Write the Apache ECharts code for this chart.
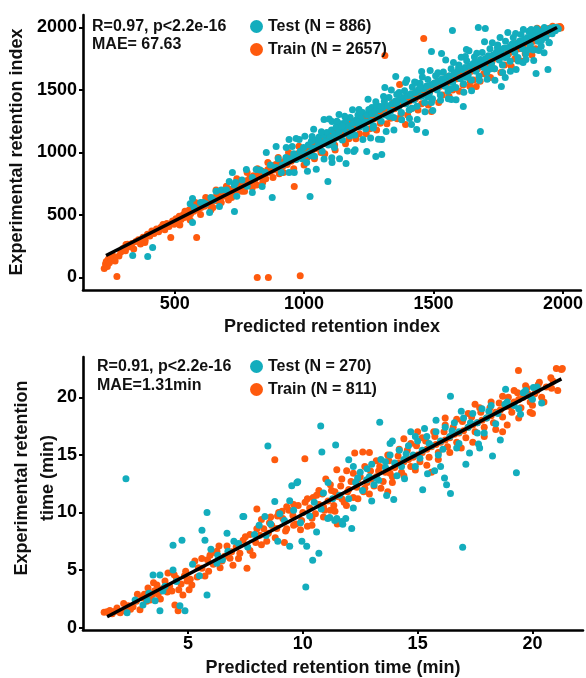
<!DOCTYPE html>
<html><head><meta charset="utf-8">
<script src="https://cdn.jsdelivr.net/npm/echarts@6/dist/echarts.min.js"></script>
<style>html,body{margin:0;padding:0;background:#fff}#c{width:586px;height:678px}</style>
</head><body><div id="c"></div>
<script>
// ---- Top panel: retention index ----
const riTrain = [
[228,72],[233,108],[236,128],[240,88],[244,148],[248,118],[252,162],[256,138],[260,178],[265,158],[270,132],[277,8],[285,172],[292,204],[300,232],[310,214],[312,264],[318,266],[326,246],[335,272],[342,228],[350,288],[360,302],[368,268],[378,322],[385,280],[386,298],[395,346],[404,332],[412,372],[420,352],[430,388],[438,366],[447,402],[455,424],[462,382],[470,432],[478,408],[485,320],[492,452],[498,426],
[505,470],[512,440],[518,490],[525,465],[532,500],[538,480],[545,520],[550,495],[556,540],[562,510],[568,555],[574,530],[580,565],[585,320],[590,545],[596,580],[602,560],[608,595],[615,570],[622,610],[628,585],[635,625],[642,600],[648,560],[655,640],[662,615],[668,660],[675,635],[682,675],[688,650],[695,690],[702,665],[708,620],[715,705],[722,680],[730,720],[737,695],[744,740],[750,715],[757,760],[764,730],[770,690],[777,775],[784,750],[790,795],[797,770],[804,815],[810,785],[819,0],[817,740],[824,830],[831,805],[838,850],[845,820],[852,790],[862,0],[860,865],[868,840],[875,885],[882,860],[890,905],[897,875],[904,830],[912,920],[920,895],[928,940],[935,905],[943,960],[950,930],[962,728],[958,975],[966,945],[975,990],[983,960],[985,14],[991,1005],[998,975],
[1005,1020],[1012,960],[1020,1045],[1028,1000],[1035,1070],[1043,1030],[1050,1085],[1058,1050],[1065,1000],[1072,1110],[1080,1075],[1088,1130],[1095,1090],[1103,1150],[1110,1110],[1118,1060],[1126,1170],[1134,1135],[1142,1195],[1150,1150],[1158,1215],[1165,1170],[1173,1110],[1181,1235],[1190,1195],[1198,1255],[1206,1210],[1214,1150],[1222,1270],[1230,1230],[1238,1290],[1246,1250],[1254,1190],[1262,1310],[1270,1270],[1278,1330],[1286,1290],[1294,1235],[1302,1350],[1312,1776],[1310,1310],[1318,1370],[1326,1330],[1334,1275],[1342,1395],[1350,1350],[1358,1410],[1366,1370],[1369,1544],[1374,1310],[1382,1430],[1392,1224],[1390,1390],[1398,1450],[1406,1410],[1414,1350],[1422,1470],[1430,1430],[1438,1490],[1446,1450],[1454,1390],[1462,1912],[1462,1510],[1470,1470],[1478,1530],[1486,1490],[1492,1328],[1494,1420],[1502,1550],[1510,1510],[1518,1570],[1526,1530],[1534,1460],[1542,1590],[1550,1550],[1558,1610],[1566,1570],[1574,1500],[1582,1630],[1590,1590],[1598,1650],[1606,1610],[1614,1540],[1622,1670],[1630,1630],[1638,1690],[1642,1568],[1646,1650],[1654,1580],[1662,1710],[1665,1528],[1670,1670],[1678,1730],[1686,1690],[1694,1630],[1702,1750],[1710,1710],[1718,1770],[1726,1730],[1734,1670],[1742,1790],[1750,1750],[1758,1810],[1766,1770],[1774,1700],[1782,1830],[1790,1790],[1798,1850],[1806,1810],[1814,1750],[1822,1870],[1830,1830],[1838,1890],[1846,1850],[1854,1790],[1862,1910],[1870,1870],[1878,1930],[1886,1890],[1894,1830],[1902,1950],[1910,1910],[1918,1965],[1920,1985],[1926,1930],[1934,1980],[1940,1990],[1942,1950],[1950,1995],[1958,1975],[1960,2010],[1966,2000],[1972,1990],[1975,1995],[1978,2005],[1985,1998],[1988,2008],[1990,2002],[1992,1996],
[520,420],[540,530],[560,460],[580,600],[600,505],[620,640],[640,540],[660,700],[680,600],[700,730],[720,640],[740,790],[760,690],[780,840],[800,720],[820,870],[840,760],[860,920],[880,800],[900,960],[920,840],[940,1000],[960,870],[980,1050],[1000,900],[1020,1040],[1040,950],[1060,1080],[1080,990],[1100,1120],[1120,1020],[1140,1160],[1160,1070],[1180,1210],[1200,1110],[1220,1250],[1240,1150],[1260,1300],[1280,1180],[1300,1330],[1320,1230],[1340,1380],[1360,1270],[1380,1420],[1400,1300],[1420,1460],[1440,1340],[1460,1500],[1480,1380],[1500,1540],[1520,1400],[1540,1580],[1560,1450],[1580,1620],[1600,1490],[1620,1660],[1640,1530],[1660,1700],[1680,1570],[1700,1740],[1720,1600],[1740,1780],[1760,1640],[1780,1830],[1800,1690],[1820,1870],[1840,1730],[1860,1900],[1880,1780],[1900,1995]
];
const riTest = [
[338,176],[396,168],[415,240],[569,632],[569,440],[635,520],[673,568],[711,768],[723,840],[731,528],[777,864],[800,680],[815,864],[838,728],[854,1000],[877,640],[892,1048],[912,840],[931,920],[942,1104],[954,1048],[969,1112],[942,840],[962,840],
[560,590],[575,560],[600,600],[610,600],[620,590],[640,640],[650,620],[660,690],[680,700],[700,700],[730,740],[735,760],[740,650],[760,780],[780,730],[800,800],[830,860],[850,840],[870,900],[890,880],[900,950],[915,900],[930,960],[945,950],[960,990],[975,960],
[1023,648],[1092,768],[1162,912],[1108,920],[1242,1008],[1277,968],[1300,984],[1300,1104],[1192,1008],[969,944],[931,1040],[1031,1128],[981,1104],[1077,1264],[1108,1248],[1135,1304],[1212,1344],[1262,1360],[1312,1520],[1354,1608],[1392,1560],[1431,1560],[1454,1648],[1492,1808],[1531,1792],[1573,1976],[1627,1824],[1673,2000],[1700,1992],[1681,1168],[1762,1528],[1777,1600],[1819,1664],[1896,1632],[1942,1664],[1846,1720],[1615,1368],[1569,1424],[1492,1400],[1469,1160],[1435,1184],[1415,1224],[1623,1768],
[985,1010],[992,950],[998,1040],[1004,985],[1010,920],[1016,1060],[1022,1000],[1028,1090],[1034,1035],[1040,970],[1046,1100],[1052,1050],[1058,1125],[1064,1070],[1070,1010],[1076,1140],[1082,1095],[1088,1160],[1094,1060],[1100,1120],[1106,1180],[1112,1090],[1118,1150],[1124,1205],[1130,1120],[1136,1170],[1142,1230],[1148,1100],[1154,1190],[1160,1250],[1166,1150],[1172,1215],[1178,1280],[1184,1180],[1190,1235],[1196,1140],[1202,1260],[1208,1300],[1214,1205],[1220,1270],[1226,1320],[1232,1230],[1238,1190],[1244,1300],[1250,1345],[1256,1250],[1262,1310],[1268,1215],[1274,1330],[1280,1380],[1286,1280],[1292,1345],[1298,1250],[1304,1360],[1310,1410],[1316,1300],[1322,1375],[1328,1440],[1334,1330],[1340,1390],[1346,1280],[1352,1410],[1358,1465],[1364,1360],[1370,1425],[1376,1320],[1382,1440],[1388,1495],[1394,1390],[1400,1455],[1406,1340],[1412,1470],[1418,1525],[1424,1420],[1430,1480],[1436,1370],[1442,1500],[1448,1555],[1454,1450],[1460,1510],[1466,1400],[1472,1530],[1478,1585],[1484,1475],[1490,1540],[1496,1430],[1502,1555],[1508,1615],[1514,1500],[1520,1570],[1526,1460],[1532,1590],[1538,1645],[1544,1530],[1550,1600],[1556,1490],[1562,1615],[1568,1670],[1574,1560],[1580,1630],[1586,1520],[1592,1650],[1598,1700],[1604,1590],[1610,1665],[1616,1550],[1622,1680],[1628,1735],[1634,1620],[1640,1690],[1646,1580],[1652,1710],[1658,1765],[1664,1650],[1670,1720],[1676,1610],[1682,1745],[1688,1800],[1694,1680],[1700,1750],[1706,1640],[1712,1775],[1718,1830],[1724,1710],[1730,1780],[1736,1670],[1742,1800],[1748,1860],[1754,1740],[1760,1810],[1766,1700],[1772,1835],[1778,1890],[1784,1770],[1790,1840],[1796,1730],[1802,1865],[1808,1920],[1814,1800],[1820,1870],[1826,1760],[1832,1890],[1838,1945],[1844,1830],[1850,1900],[1856,1790],[1862,1920],[1868,1970],[1874,1860],[1880,1930],[1886,1820],[1892,1950],[1898,1990],[1904,1890],[1910,1960],[1916,1850],[1922,1975],[1928,2000],[1934,1920],[1940,1985],[1946,1880],[1952,1995],[1958,1950],[1964,2000],[1970,1975],[1976,2000],[1982,1990],
[1003,1130],[1013,851],[1027,975],[1037,1186],[1047,866],[1057,1087],[1067,1167],[1077,948],[1087,1088],[1097,1269],[1107,959],[1117,1040],[1127,1250],[1137,950],[1147,1211],[1157,1291],[1167,1012],[1177,1132],[1187,1343],[1197,1023],[1207,1244],[1217,1324],[1227,1105],[1237,1245],[1247,1426],[1257,1116],[1267,1197],[1277,1407],[1287,1107],[1297,1368],[1307,1448],[1317,1169],[1327,1289],[1337,1500],[1347,1180],[1357,1401],[1367,1481],[1377,1262],[1387,1402],[1397,1583],[1407,1273],[1417,1354],[1427,1564],[1437,1265],[1447,1525],[1457,1605],[1467,1326],[1477,1446],[1487,1657],[1497,1337],[1507,1558],[1517,1638],[1527,1419],[1537,1559],[1547,1740],[1557,1430],[1567,1511],[1577,1721],[1587,1422],[1597,1682],[1607,1763],[1617,1483],[1627,1603],[1637,1814],[1647,1494],[1657,1715],[1667,1795],[1677,1576],[1687,1716],[1697,1887],[1707,1587],[1717,1668],[1727,1878],[1737,1579],[1747,1839],[1757,1920],[1767,1640],[1777,1760],[1787,1961],[1797,1651],[1807,1872],[1817,1952],[1827,1733],[1837,1873],[1847,1984],[1857,1744],[1867,1825],[1877,1985],[1887,1736],[1897,1976],[1907,1817],[1917,1897],[1927,1798],[1947,1878]
];
const riFit = [[235,176],[1977,2000]];
const riXTicks = [500,1000,1500,2000];
const riYTicks = [0,500,1000,1500,2000];

// ---- Bottom panel: retention time ----
const rtTrain = [
[1.35,1.35],[1.48,1.38],[1.6,1.5],[1.7,1.21],[1.8,1.4],[1.91,1.72],[2.05,1.3],[2.26,1.47],[2.4,1.9],[2.61,1.81],[2.75,2.3],[2.91,1.55],[3.0,2.6],[3.1,2.9],[3.26,3.45],[3.35,2.4],[3.43,2.84],[3.55,3.2],[3.65,3.71],[3.8,2.5],[3.9,3.4],[4.0,4.05],[4.13,4.74],[4.2,3.6],[4.3,3.19],[4.43,1.98],[4.5,4.3],[4.57,1.47],[4.7,3.8],[4.78,2.84],[4.85,4.5],[4.96,4.05],[5.05,3.3],[5.17,3.71],[5.3,5.78],[5.45,5.2],[5.61,5.17],[5.74,4.48],[5.85,5.9],[5.96,6.29],[6.1,5.5],[6.26,6.64],[6.35,7.1],[6.48,5.78],[6.6,6.2],[6.83,6.03],[6.96,5.43],[7.1,7.0],[7.26,6.47],[7.4,7.6],[7.57,5.17],[7.7,8.1],[7.83,6.29],[7.95,7.4],[8.13,8.02],[8.3,8.6],[8.43,7.5],[8.55,9.1],[8.65,8.88],[8.78,14.57],[8.87,8.62],[8.95,10.0],[9.13,9.48],[9.25,8.4],[9.4,10.2],[9.57,9.74],[9.7,9.0],[9.8,10.6],[9.95,9.3],[10.09,14.66],[10.1,10.9],[10.2,8.8],[10.3,10.4],[10.45,11.3],[10.55,9.9],[10.7,10.7],[10.85,11.6],[10.95,10.2],[11.1,11.0],[11.25,11.9],[11.35,10.6],[11.48,13.71],[11.5,11.4],[11.65,12.3],[11.8,10.9],[11.91,13.62],[11.95,11.8],[12.1,12.7],[12.26,15.17],[12.2,11.3],[12.35,12.2],[12.5,13.1],[12.61,15.26],[12.65,11.8],[12.8,12.6],[12.95,13.6],[13.1,12.3],[13.2,13.1],[13.35,14.0],[13.5,12.7],[13.6,13.5],[13.75,14.5],[13.9,13.1],[14.0,13.9],[14.15,14.9],[14.3,13.5],[14.4,14.4],[14.55,15.4],[14.7,14.0],[14.8,14.8],[14.95,15.8],[15.1,14.4],[15.2,15.2],[15.35,16.2],[15.5,14.8],[15.6,15.7],[15.75,16.6],[15.9,15.2],[16.0,16.1],[16.15,17.0],[16.3,15.7],[16.4,16.5],[16.55,17.4],[16.7,16.1],[16.8,16.9],[16.95,17.9],[17.1,16.5],[17.2,17.4],[17.35,18.3],[17.5,17.0],[17.6,17.8],[17.75,18.7],[17.9,17.4],[18.0,18.2],[18.15,19.1],[18.3,17.8],[18.4,18.7],[18.55,19.5],[18.7,18.3],[18.8,19.2],[18.95,20.0],[19.1,18.7],[19.2,19.6],[19.39,22.33],[19.35,20.4],[19.5,19.1],[19.6,20.0],[19.75,20.8],[19.9,19.6],[20.0,19.31],[20.1,20.3],[20.25,21.1],[20.4,20.0],[20.6,20.9],[20.83,20.78],[21.04,22.5],[21.26,22.41],[20.9,21.4],
[8.2,9.4],[8.5,8.2],[8.9,9.7],[9.3,10.5],[9.6,8.9],[10.0,10.0],[10.4,9.5],[10.6,11.5],[10.9,10.5],[11.2,10.2],[11.4,11.8],[11.7,11.2],[12.0,12.0],[12.4,12.9],[12.7,12.1],[13.0,12.9],[13.3,13.6],[13.8,13.4],[14.2,14.3],[14.6,14.6],[15.0,15.0],[15.4,15.5],[15.8,15.9],[16.2,16.3],[16.6,16.8],[17.0,17.1],[17.4,17.6],[17.8,18.0],[18.2,18.4],[18.6,18.9],[19.0,19.2],[19.4,19.8],[19.8,20.3],[20.2,20.6],
[9.2,7.4],[11.5,9.0],[13.7,11.8],[15.6,13.5],[18.7,17.0],[20.0,18.6],[8.0,10.3],[11.0,12.9],[12.9,15.2],[14.4,16.4],[16.2,18.2],[17.5,19.4],[15.0,17.0],
[2.2,2.1],[2.5,1.6],[2.8,2.9],[3.2,2.3],[3.5,3.9],[3.7,2.9],[4.1,3.1],[4.4,4.6],[4.6,3.3],[4.9,4.9],[5.1,4.2],[5.4,4.4],[5.6,6.0],[5.9,4.9],[6.2,6.5],[6.4,5.2],[6.7,7.1],[6.9,6.6],[7.2,6.0],[7.5,7.9],[7.7,6.7],[8.0,8.6],[8.2,7.2],[8.6,9.6],[8.8,7.8],[9.1,10.1],[9.3,8.6],[9.6,10.7],[9.9,8.5],[10.2,11.2],[10.4,8.9],[10.7,11.9],[10.9,9.6],[11.2,12.4],[11.4,10.1],[11.7,12.9],[11.9,10.6],[12.2,13.4],[12.4,11.2],[12.7,14.0],[12.9,11.6],[13.2,14.5],[13.4,12.1],[13.7,15.0],[13.9,12.6],[14.2,15.5],[14.4,13.2],[14.7,16.0],[14.9,13.7],[15.2,16.5],[15.4,14.1],[15.7,17.0],[15.9,14.6],[16.2,17.6],[16.4,15.2],[16.7,18.1],[16.9,15.6],[17.2,18.6],[17.4,16.1],[17.7,19.1],[17.9,16.6],[18.2,19.6],[18.4,17.2],[18.7,20.1],[18.9,17.6],[19.2,20.6],[19.4,18.2],[19.7,21.0],[19.9,18.7],[20.3,21.3],[20.5,19.6],[20.8,21.7],[21.1,20.6],[21.3,22.5]
];
const rtTest = [
[2.30,12.93],[8.48,15.78],[5.83,2.84],[4.35,7.16],[4.74,7.59],[5.83,10.0],[5.61,8.45],[5.74,7.59],[6.70,8.19],[7.39,9.66],[8.35,9.66],[8.78,10.95],[9.43,11.03],[9.52,12.33],[9.74,12.59],[9.43,7.07],[8.91,7.5],[3.48,4.57],[3.78,4.57],[4.35,5.0],[4.87,1.47],[4.65,1.90],[3.78,1.47],[2.35,1.29],[2.70,2.41],[3.04,1.98],[3.22,2.41],[3.57,2.33],[3.91,3.19],[6.26,5.60],[6.30,6.29],[6.74,6.64],[10.78,17.5],[10.83,15.26],[11.43,15.86],[9.78,12.67],[7.43,9.66],[9.96,7.5],[10.17,7.07],[10.70,6.47],[10.43,5.86],[10.13,3.53],[11.74,8.97],[12.13,8.62],[11.87,9.48],[11.09,9.48],[11.48,9.48],[13.65,11.47],[13.96,11.12],[12.78,12.84],[12.39,13.0],[12.0,14.57],[13.35,17.84],[16.43,20.09],[19.30,13.45],[18.26,14.91],[17.26,15.17],[15.22,11.98],[16.17,13.0],[16.26,12.41],[16.43,11.64],[17.65,15.95],[17.7,15.6],[19.48,18.53],[20.04,20.86],[20.0,19.83],[18.83,20.69],[14.43,12.93],[15.43,13.36],[15.74,13.62],[16.96,6.98],[11.17,9.57],[11.39,9.31],[11.7,9.22],
[12.5,13.5],[12.8,13.8],[13.0,14.2],[13.2,13.0],[13.4,14.6],[13.6,13.9],[13.8,15.0],[14.0,14.3],[14.2,15.4],[14.4,14.6],[14.6,15.8],[14.8,15.0],[15.0,16.2],[15.2,15.4],[15.4,16.6],[15.6,15.8],[15.8,17.0],[16.0,16.2],[16.2,17.4],[16.4,16.6],[16.6,17.8],[16.8,17.0],[17.0,18.2],[17.2,17.4],[17.4,18.6],[17.6,17.8],[17.8,19.0],[18.0,18.2],[18.2,19.3],[18.5,18.6],[18.9,19.6],[19.2,19.3],[19.6,20.4],[19.9,20.1],[12.6,11.9],[13.1,12.4],[14.1,13.2],[14.9,14.0],[15.9,15.0],[16.7,15.6],[17.9,16.9],[13.9,16.2],[14.7,17.0],[15.3,17.3],[16.9,18.8],[10.5,10.9],[10.9,11.7],[11.3,11.2],[9.0,9.9],[8.6,9.0],[7.9,8.1],[7.2,7.3],[9.9,9.1],
[3.3,3.0],[4.0,3.6],[4.5,4.0],[5.2,5.5],[5.5,4.5],[6.0,6.8],[6.5,5.9],[7.0,7.5],[7.6,7.0],[8.1,8.9],[8.4,8.0],[9.2,9.3],[9.6,10.2],[10.3,9.7],[10.8,10.3],[11.6,11.5],[12.0,11.2],[12.3,12.6],[12.9,13.1],[13.3,12.8],[13.6,14.4],[14.3,14.0],[14.5,15.1],[15.1,14.7],[15.5,16.0],[16.1,15.5],[16.5,17.1],[16.8,16.0],[17.3,17.8],[17.6,16.9],[18.1,18.8],[18.4,17.7],[18.8,19.4],[19.4,19.0],[19.7,20.6],[20.2,20.9],[20.4,19.5],[13.8,16.0],[14.9,16.6],[12.2,14.0],[11.1,12.6],[15.8,18.0],[17.1,14.2],[18.6,16.3],[16.0,14.0],[13.0,11.0],[12.2,10.4],[10.6,8.3]
];
const rtFit = [[1.48,0.95],[21.26,21.6]];
const rtXTicks = [5,10,15,20];
const rtYTicks = [0,5,10,15,20];

const names = ['Test (N = 886)','Train (N = 2657)','Test (N = 270)','Train (N = 811)'];
const TEAL = '#13ADBD', ORANGE = '#FE5A0E';
const FONT = '"Liberation Sans", Arial, Helvetica, sans-serif';
const INK = '#111';
const plain = v => String(v);

function xAx(grid, min, max, ticks, name, gap) {
  return {
    gridIndex: grid, type: 'value', min: min, max: max,
    splitLine: {show: false},
    axisLine: {onZero: false, lineStyle: {color: '#000', width: 2.6}},
    axisTick: {customValues: ticks, length: 4, lineStyle: {color: '#000', width: 2}},
    axisLabel: {customValues: ticks, formatter: plain, margin: 5, color: '#000', fontSize: 18, fontWeight: 'bold', fontFamily: FONT},
    name: name, nameLocation: 'middle', nameGap: gap,
    nameTextStyle: {color: INK, fontSize: 18, fontWeight: 'bold', fontFamily: FONT}
  };
}
function yAx(grid, min, max, ticks) {
  return {
    gridIndex: grid, type: 'value', min: min, max: max,
    splitLine: {show: false},
    axisLine: {onZero: false, lineStyle: {color: '#000', width: 2.6}},
    axisTick: {customValues: ticks, length: 4, lineStyle: {color: '#000', width: 2}},
    axisLabel: {customValues: ticks, formatter: plain, margin: 6, color: '#000', fontSize: 18, fontWeight: 'bold', fontFamily: FONT}
  };
}
function scat(name, data, color, xi) {
  return {type: 'scatter', name: name, data: data, xAxisIndex: xi, yAxisIndex: xi,
    symbolSize: 7, itemStyle: {color: color, opacity: 1}, emphasis: {disabled: true}, silent: true};
}
function fit(data, xi) {
  return {type: 'line', data: data, xAxisIndex: xi, yAxisIndex: xi, showSymbol: false, z: 5,
    lineStyle: {color: '#000', width: 3.5}, silent: true};
}
function leg(data, top) {
  return {data: data, orient: 'vertical', left: 250, top: top, padding: 0, itemGap: 6,
    icon: 'circle', itemWidth: 13, itemHeight: 13, selectedMode: false,
    textStyle: {color: INK, fontSize: 16, fontWeight: 'bold', fontFamily: FONT, lineHeight: 17}};
}

const chart = echarts.init(document.getElementById('c'));
chart.setOption({
  animation: false,
  backgroundColor: '#fff',
  grid: [{left: 83, right: 3, top: 15, height: 275}, {left: 83, right: 3, top: 357, height: 275}],
  xAxis: [xAx(0, 146, 2069, riXTicks, 'Predicted retention index', 28),
          xAx(1, 0.43, 22.2, rtXTicks, 'Predicted retention time (min)', 29)],
  yAxis: [yAx(0, -100, 2100, riYTicks), yAx(1, -0.2, 23.5, rtYTicks)],
  legend: [leg([names[0], names[1]], 18), leg([names[2], names[3]], 358)],
  series: [
    scat(names[1], riTrain, ORANGE, 0), scat(names[0], riTest, TEAL, 0), fit(riFit, 0),
    scat(names[3], rtTrain, ORANGE, 1), scat(names[2], rtTest, TEAL, 1), fit(rtFit, 1)
  ],
  graphic: [
    {type: 'text', x: 92, y: 18, style: {text: 'R=0.97, p<2.2e-16\nMAE= 67.63', fill: INK, font: 'bold 16px ' + FONT, lineHeight: 18}},
    {type: 'text', x: 97, y: 357, style: {text: 'R=0.91, p<2.2e-16\nMAE=1.31min', fill: INK, font: 'bold 16px ' + FONT, lineHeight: 19}},
    {type: 'text', x: 17, y: 152, rotation: Math.PI / 2,
      style: {text: 'Experimental retention index', fill: INK, font: 'bold 18px ' + FONT, align: 'center', verticalAlign: 'middle'}},
    {type: 'text', x: 35, y: 478, rotation: Math.PI / 2,
      style: {text: 'Experimental retention\ntime (min)', fill: INK, font: 'bold 18px ' + FONT, align: 'center', verticalAlign: 'middle', lineHeight: 26}}
  ]
});
</script></body></html>
